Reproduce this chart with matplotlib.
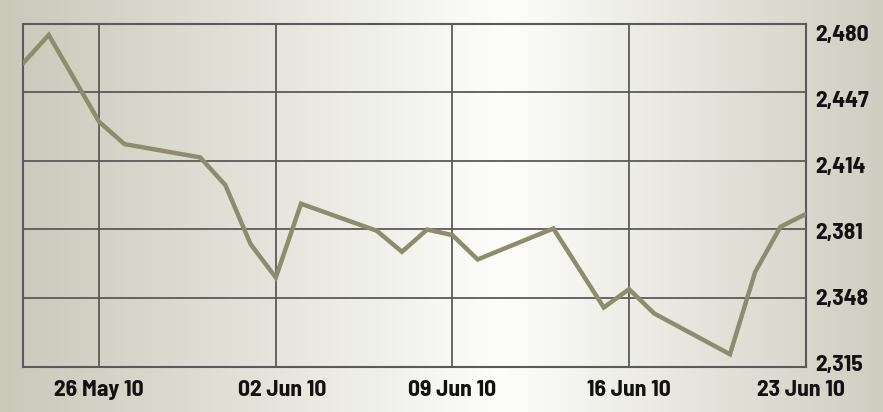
import numpy as np
import pandas as pd
import matplotlib.pyplot as plt
from matplotlib.colors import LinearSegmentedColormap
from matplotlib.transforms import ScaledTranslation

# index closes
dates = pd.to_datetime([
    "2010-05-23", "2010-05-24", "2010-05-26", "2010-05-27", "2010-05-30",
    "2010-05-31", "2010-06-01", "2010-06-02", "2010-06-03", "2010-06-06",
    "2010-06-07", "2010-06-08", "2010-06-09", "2010-06-10", "2010-06-13",
    "2010-06-15", "2010-06-16", "2010-06-17", "2010-06-20", "2010-06-21",
    "2010-06-22", "2010-06-23",
])
values = [2461.1, 2474.5, 2432.7, 2422.0, 2415.6,
          2402.3, 2373.9, 2357.8, 2393.3, 2380.3,
          2370.2, 2380.9, 2378.2, 2366.5, 2381.4,
          2343.4, 2352.2, 2340.5, 2320.9, 2360.5,
          2382.2, 2388.3]

y_ticks = [2480, 2447, 2414, 2381, 2348, 2315]
y_labels = ["2,480", "2,447", "2,414", "2,381", "2,348", "2,315"]
x_ticks = pd.to_datetime(["2010-05-26", "2010-06-02", "2010-06-09", "2010-06-16", "2010-06-23"])
x_labels = ["26 May 10", "02 Jun 10", "09 Jun 10", "16 Jun 10", "23 Jun 10"]

fig = plt.figure(figsize=(8.83, 4.12), dpi=100)

# background gradient (beige -> white -> beige)
bg = fig.add_axes([0, 0, 1, 1])
cmap = LinearSegmentedColormap.from_list(
    "bg", [(0, "#c9c8b9"), (0.57, "#fdfdfb"), (1, "#cfcec1")])
bg.imshow(np.linspace(0, 1, 256)[None, :], aspect="auto", cmap=cmap,
          extent=[0, 1, 0, 1])
bg.axis("off")

ax = fig.add_axes([0.0266, 0.1104, 0.8858, 0.8325])
ax.patch.set_alpha(0)

ax.plot(dates, values, color="#8d8c6d", lw=3.2, solid_joinstyle="miter", zorder=3)

ax.set_xlim(dates[0], dates[-1])
ax.set_ylim(2315, 2480)

ax.set_xticks(x_ticks)
ax.set_xticklabels(x_labels)
ax.set_yticks(y_ticks)
ax.set_yticklabels(y_labels)

ax.grid(True, color="#5a5a5a", lw=1.3)
for s in ax.spines.values():
    s.set_color("#5a5a5a")
    s.set_linewidth(1.5)

ax.yaxis.tick_right()
ax.tick_params(length=0)
ax.tick_params(axis="y", pad=7)
ax.tick_params(axis="x", pad=10)

for lab in ax.get_xticklabels() + ax.get_yticklabels():
    lab.set_fontfamily(["Barlow Semi Condensed", "DejaVu Sans"])
    lab.set_fontweight("bold")
    lab.set_fontsize(17)
    lab.set_color("#111111")

# labels in the original are spread a bit narrower than the grid
for i, lab in enumerate(ax.get_yticklabels()):
    dy = (-9.5 + i * 13.5 / 5) / 100
    lab.set_transform(lab.get_transform() + ScaledTranslation(0, dy, fig.dpi_scale_trans))
xl = ax.get_xticklabels()
xl[1].set_transform(xl[1].get_transform() + ScaledTranslation(0.06, 0, fig.dpi_scale_trans))
xl[-1].set_transform(xl[-1].get_transform() + ScaledTranslation(-0.05, 0, fig.dpi_scale_trans))

fig.savefig("out.png", dpi=100)
